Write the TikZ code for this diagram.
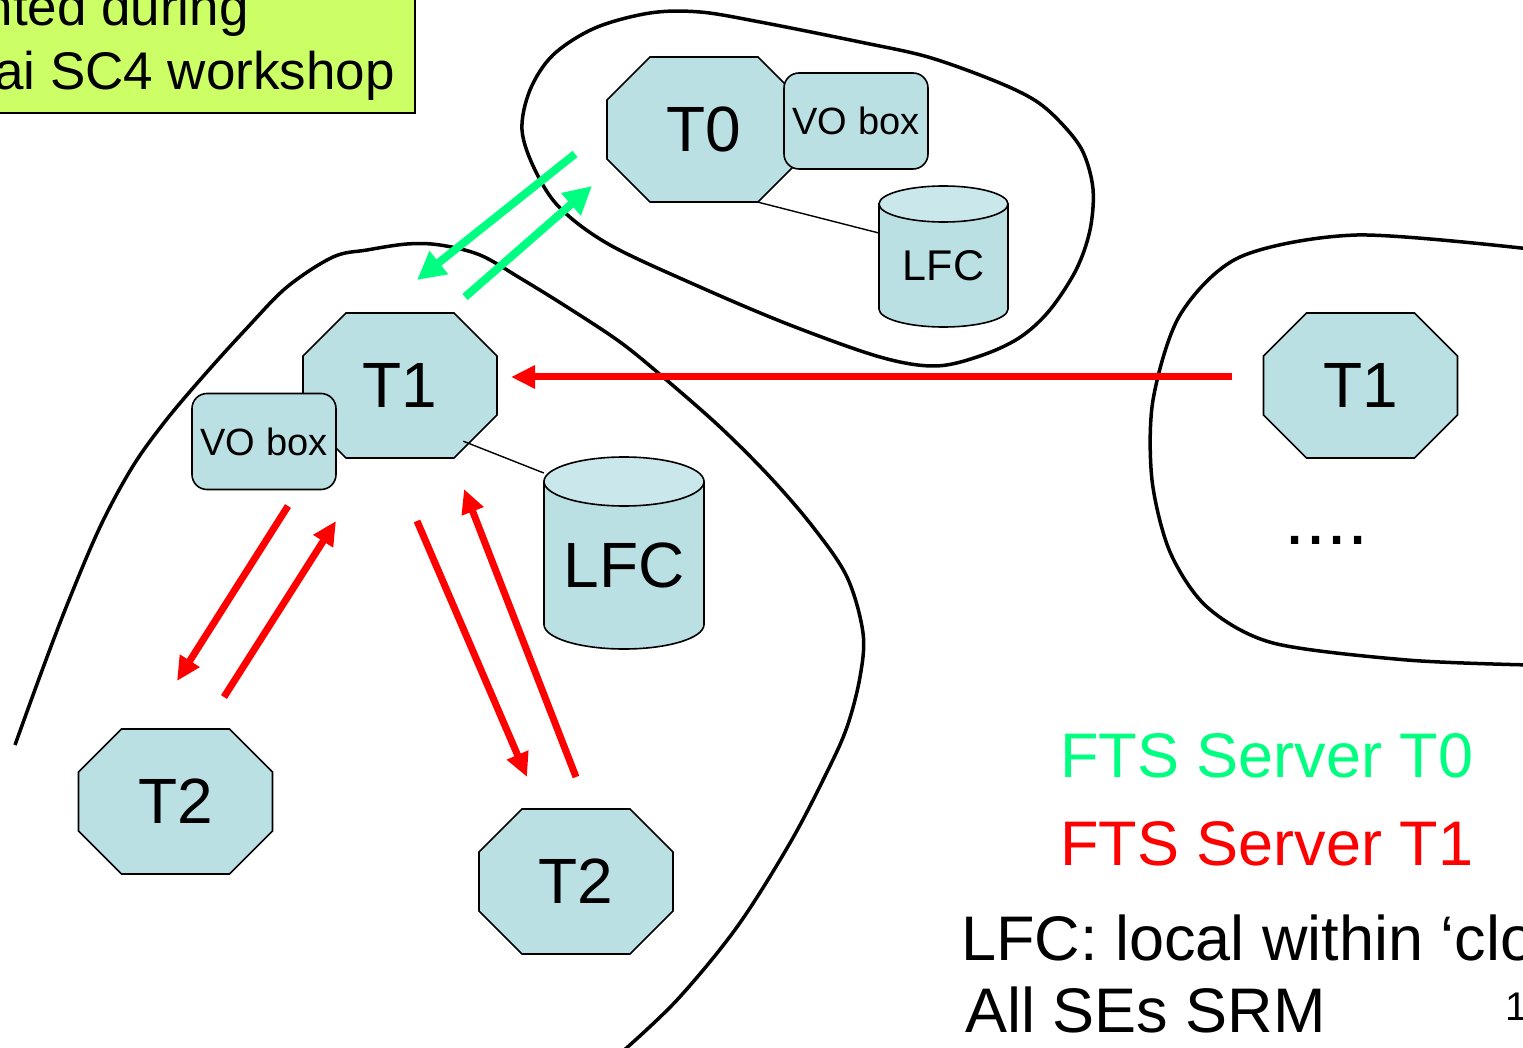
\documentclass[tikz,border=0pt]{standalone}
\usepackage{fontspec}
\setmainfont{Liberation Sans}
\usetikzlibrary{arrows.meta}

\definecolor{tierfill}{RGB}{186,224,227}
\definecolor{disktop}{RGB}{202,232,235}
\definecolor{ftsgreen}{RGB}{0,255,128}
\definecolor{ftsred}{RGB}{255,0,0}
\definecolor{notelime}{RGB}{204,255,102}

% tier site: octagon 194 x 145 with 43 chamfers, named label node on top
\newcommand\tieroct[4]{%
  \filldraw[octedge] ({#2-54},{#3-72.5}) -- ({#2+54},{#3-72.5}) -- ({#2+97},{#3-29.5})
    -- ({#2+97},{#3+29.5}) -- ({#2+54},{#3+72.5}) -- ({#2-54},{#3+72.5})
    -- ({#2-97},{#3+29.5}) -- ({#2-97},{#3-29.5}) -- cycle;
  \node[tierlabel] (#1) at (#2,#3) {#4};}

% catalogue cylinder: #1 centre x, #2 radius x, #3 radius y, #4 top centre y, #5 bottom centre y
\newcommand\diskcyl[5]{%
  \filldraw[diskedge, fill=tierfill] ({#1-#2},#4) -- ({#1-#2},#5)
    arc[start angle=180, end angle=360, x radius=#2pt, y radius=#3pt] -- ({#1+#2},#4) -- cycle;
  \filldraw[diskedge, fill=disktop] (#1,#4) ellipse[x radius=#2pt, y radius=#3pt];}

\begin{document}
\begin{tikzpicture}[x=1pt, y=-1pt,
  octedge/.style={fill=tierfill, draw=black, line width=1.6pt, line join=miter},
  tierlabel/.style={inner sep=0pt, minimum width=194pt, minimum height=145pt,
    font=\fontsize{64}{70}\selectfont},
  vobox/.style={rectangle, rounded corners=15pt, minimum width=144pt, minimum height=96pt,
    inner sep=0pt, fill=tierfill, draw=black, line width=1.6pt, font=\fontsize{38}{44}\selectfont},
  diskedge/.style={draw=black, line width=1.6pt},
  cloudline/.style={draw=black, line width=3.5pt},
  thinlink/.style={draw=black, line width=1.4pt},
  greenflow/.style={draw=ftsgreen, line width=8pt, -{Triangle[length=28pt, width=28pt]}},
  redflow/.style={draw=ftsred, line width=7pt, -{Triangle[length=24pt, width=22pt]}},
  bigtext/.style={inner sep=0pt, anchor=base west, font=\fontsize{63}{70}\selectfont},
  notetext/.style={inner sep=0pt, anchor=base east, font=\fontsize{53}{60}\selectfont}]

\useasboundingbox (0,0) rectangle (1523,1048);
\fill[white] (0,0) rectangle (1523,1048);

% workshop note
\filldraw[fill=notelime, draw=black, line width=2pt] (-10,-10) rectangle (415,113);
\node[notetext] (note1) at (249,26) {nted during};
\node[notetext] (note2) at (395,90) {ai SC4 workshop};

% clouds
\draw[cloudline] plot[smooth cycle, tension=0.55] coordinates {
  (522,130) (530,90) (553,55) (595,28) (650,13) (700,12) (760,22) (860,42)
  (928,57) (995,81) (1036,101) (1063,125) (1083,152) (1093,189) (1090,230)
  (1076,270) (1049,311) (1019,338) (980,356) (935,366) (880,357) (790,325)
  (700,287) (610,245) (560,208) (535,170)};
\draw[cloudline] plot[smooth, tension=0.55] coordinates {
  (15,745) (40,676) (67,605) (100,527) (133,466) (167,419) (207,372) (247,328)
  (287,287) (333,257) (367,250) (407,244) (440,245) (480,255) (520,278) (567,307)
  (620,342) (663,377) (720,427) (770,477) (813,527) (847,577) (863,633) (860,677)
  (847,727) (827,772) (790,843) (737,927) (677,1000) (622,1052)};
\draw[cloudline] plot[smooth, tension=0.5] coordinates {
  (1530,249) (1357,235) (1240,257) (1180,315) (1153,400) (1152,480)
  (1170,552) (1207,607) (1273,643) (1407,660) (1530,665)};

% sites
\tieroct{t0}{704}{129.5}{T0}
\tieroct{t1}{400}{385.5}{T1}
\tieroct{t1r}{1360.5}{385.5}{T1}
\tieroct{t2l}{175.5}{801.5}{T2}
\tieroct{t2r}{576}{881.5}{T2}

\node[vobox] (vo0) at (856,121) {VO box};
\node[vobox] (vo1) at (264,441.5) {VO box};

\diskcyl{943.5}{64.5}{18}{204}{309}
\node[inner sep=0pt, minimum width=129pt, font=\fontsize{43}{48}\selectfont] (lfc0) at (943.5,265.5) {LFC};
\diskcyl{624}{80}{24.5}{481.5}{624.5}
\node[inner sep=0pt, minimum width=160pt, font=\fontsize{64}{70}\selectfont] (lfc1) at (624,565) {LFC};

\draw[thinlink] ([xshift=-43pt]t0.south east) -- ([yshift=32.5pt]lfc0.west);
\draw[thinlink] ([xshift=-34pt, yshift=17pt]t1.south east) -- ([yshift=92pt]lfc1.west);

% transfer channels
\coordinate (g1s) at (575,154);  \coordinate (g1e) at (417,280);
\coordinate (g2s) at (465,297);  \coordinate (g2e) at (592,186);
\coordinate (rhs) at (1232,377); \coordinate (rhe) at (511,377);
\coordinate (ras) at (288,506);  \coordinate (rae) at (177,681);
\coordinate (rbs) at (224,697);  \coordinate (rbe) at (336,521);
\coordinate (rcs) at (417,521);  \coordinate (rce) at (527,777);
\coordinate (rds) at (576,777);  \coordinate (rde) at (464,489);

\draw[greenflow] (g1s) -- (g1e);
\draw[greenflow] (g2s) -- (g2e);
\draw[redflow] (rhs) -- (rhe);
\draw[redflow] (ras) -- (rae);
\draw[redflow] (rbs) -- (rbe);
\draw[redflow] (rcs) -- (rce);
\draw[redflow] (rds) -- (rde);

\node[inner sep=0pt, anchor=base west, font=\fontsize{76}{80}\selectfont] (more) at (1284,544) {....};

% legend
\node[bigtext, text=ftsgreen] (fts0) at (1060,777) {FTS Server T0};
\node[bigtext, text=ftsred] (fts1) at (1060,865) {FTS Server T1};
\node[bigtext] (lfcnote) at (961,960) {LFC: local within ‘clo};
\node[bigtext] (srmnote) at (965,1032) {All SEs SRM};
\node[inner sep=0pt, anchor=base west, font=\fontsize{40}{44}\selectfont] (pagenum) at (1505,1020) {1};
\end{tikzpicture}
\end{document}
